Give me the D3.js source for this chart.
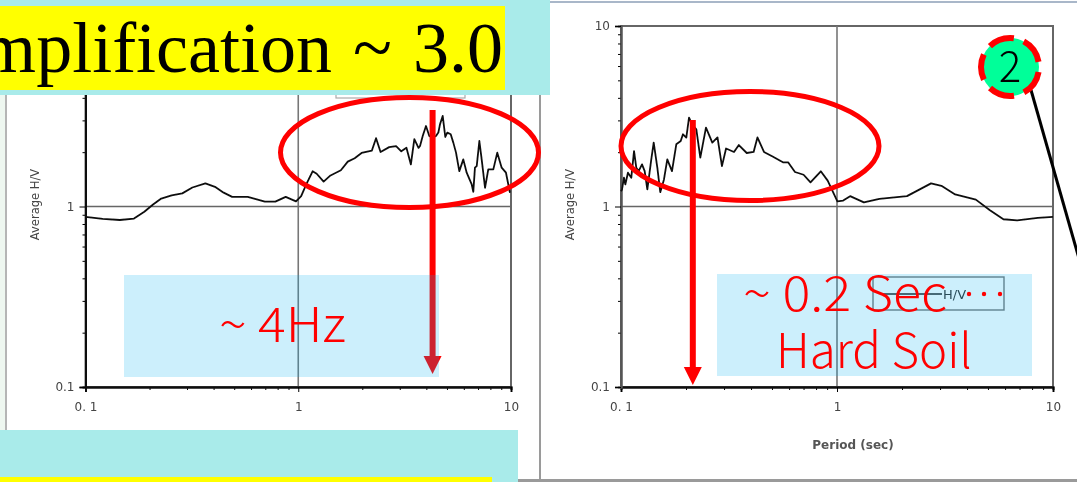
<!DOCTYPE html>
<html><head><meta charset="utf-8">
<script src="https://cdn.jsdelivr.net/npm/d3@7/dist/d3.min.js"></script>
<style>html,body{margin:0;padding:0;background:#fff;overflow:hidden}svg{display:block}</style>
</head><body><svg id="c" width="1077" height="482"></svg>
<script>
const freqHz=[0.1,0.1205,0.145,0.169,0.189,0.207,0.227,0.254,0.285,0.318,0.366,0.406,0.446,0.489,0.579,0.697,0.78,0.873,0.976,1.032,1.092,1.168,1.221,1.316,1.418,1.586,1.709,1.842,1.984,2.219,2.321,2.437,2.675,2.884,3.05,3.225,3.384,3.513,3.675,3.736,3.846,3.985,4.13,4.27,4.44,4.555,4.638,4.775,4.911,5.018,5.207,5.356,5.515,5.715,5.967,6.19,6.536,6.65,6.77,6.9,7.1,7.28,7.55,7.82,8.26,8.62,9.04,9.47,9.89];
const freqHV=[0.876,0.853,0.842,0.857,0.936,1.022,1.107,1.151,1.182,1.274,1.343,1.285,1.193,1.131,1.131,1.064,1.064,1.131,1.068,1.141,1.331,1.567,1.519,1.373,1.486,1.588,1.773,1.852,1.979,2.041,2.391,2.005,2.132,2.161,2.022,2.114,1.711,2.36,2.114,2.163,2.458,2.793,2.458,2.408,2.458,2.567,2.855,3.174,2.427,2.567,2.512,2.259,1.988,1.571,1.824,1.539,1.325,1.207,1.641,1.675,2.306,1.824,1.27,1.606,1.606,1.988,1.641,1.539,1.191];
const periodSec=[0.1,0.1011,0.1032,0.1047,0.1077,0.1116,0.1149,0.1177,0.1207,0.1251,0.1287,0.1324,0.1381,0.1417,0.1473,0.152,0.1581,0.1638,0.1722,0.1803,0.189,0.1936,0.2006,0.2065,0.2132,0.2232,0.2329,0.2474,0.2647,0.2797,0.2933,0.3065,0.3335,0.3512,0.3821,0.4111,0.4282,0.4591,0.5033,0.5618,0.5936,0.639,0.7004,0.7538,0.8414,0.9055,1.004,1.068,1.15,1.332,1.571,2.108,2.726,3.043,3.524,4.393,5.087,5.893,6.825,8.507,10];
const periodHV=[1.216,1.243,1.444,1.325,1.539,1.444,2.029,1.641,1.571,1.711,1.571,1.243,1.824,2.259,1.641,1.2,1.413,1.824,1.571,2.211,2.306,2.512,2.408,3.11,2.855,2.678,1.865,2.737,2.259,2.413,1.674,2.095,2.005,2.19,1.979,2.005,2.413,2.005,1.893,1.757,1.757,1.553,1.499,1.361,1.567,1.391,1.068,1.078,1.141,1.054,1.102,1.141,1.343,1.302,1.167,1.092,0.957,0.85,0.838,0.865,0.876];
const xMajor=[0.1,1,10], xMajorLabels=["0. 1","1","10"];
const yMajorLeft=[0.1,1], yLabelsLeft=["0.1","1"];
const yMajorRight=[0.1,1,10], yLabelsRight=["0.1","1","10"];
const minor=[0.2,0.3,0.4,0.5,0.6,0.7,0.8,0.9,2,3,4,5,6,7,8,9];
const headline="Amplification ~ 3.0";
const notes=["~ 4Hz","~ 0.2 Sec","Hard Soil"];
const titles={y:"Average H/V",x:"Period (sec)",legend:"H/V"};
const marker="2";

const svg=d3.select("#c");
const defs=svg.append("defs");
defs.append("filter").attr("id","soft").attr("x","-5%").attr("y","-5%").attr("width","110%").attr("height","110%")
  .append("feGaussianBlur").attr("stdDeviation",0.6);

// page furniture
svg.append("rect").attr("x",0).attr("y",0).attr("width",5).attr("height",482).attr("fill","#eef7f0");
svg.append("rect").attr("x",5).attr("y",95).attr("width",2).attr("height",335).attr("fill","#b5b5b5");
svg.append("rect").attr("x",539).attr("y",0).attr("width",2).attr("height",482).attr("fill","#9a9a9a");
svg.append("rect").attr("x",540).attr("y",1).attr("width",537).attr("height",2).attr("fill","#a9b7c9");
svg.append("rect").attr("x",500).attr("y",479).attr("width",577).attr("height",3).attr("fill","#9a9a9a");

function chart(o){
  const x=d3.scaleLog().domain([0.1,10]).range(o.xr);
  const y=d3.scaleLog().domain([0.1,10]).range([387,26]);
  const g=svg.append("g").attr("filter","url(#soft)");
  const [x0,x1]=o.xr;
  g.append("rect").attr("x",x0).attr("y",26).attr("width",x1-x0).attr("height",361)
    .attr("fill","none").attr("stroke","#666").attr("stroke-width",2);
  g.append("line").attr("x1",x(1)).attr("x2",x(1)).attr("y1",26).attr("y2",387).attr("stroke","#777").attr("stroke-width",1.6);
  g.append("line").attr("x1",x0).attr("x2",x1).attr("y1",y(1)).attr("y2",y(1)).attr("stroke","#666").attr("stroke-width",1.6);
  const style=s=>s.call(a=>a.select(".domain").attr("stroke",o.axis).attr("stroke-width",2))
     .call(a=>a.selectAll("text").attr("fill","#444").attr("font-family","DejaVu Sans").attr("font-size",12));
  const bottom=s=>s.call(a=>a.select(".domain").attr("stroke","#111"));
  g.append("g").attr("transform","translate(0,387)")
    .call(d3.axisBottom(x).tickValues(minor).tickSize(3).tickFormat("")).call(style).call(bottom);
  g.append("g").attr("transform","translate(0,387)")
    .call(d3.axisBottom(x).tickValues(xMajor).tickSize(5).tickPadding(10).tickFormat((d,i)=>xMajorLabels[i])).call(style).call(bottom);
  g.append("g").attr("transform",`translate(${x0},0)`)
    .call(d3.axisLeft(y).tickValues(minor).tickSize(3).tickFormat("")).call(style);
  g.append("g").attr("transform",`translate(${x0},0)`)
    .call(d3.axisLeft(y).tickValues(o.yt).tickSize(6).tickPadding(5).tickFormat((d,i)=>o.yl[i])).call(style);
  g.append("text").attr("transform",`translate(${x0-47},${y(1)-2}) rotate(-90)`).attr("text-anchor","middle")
    .attr("font-family","DejaVu Sans").attr("font-size",11.5).attr("fill","#444").text(titles.y);
  g.append("path").attr("fill","none").attr("stroke","#111").attr("stroke-width",1.8).attr("stroke-linejoin","round")
    .attr("d",d3.line().x((d,i)=>x(o.xs[i])).y(d=>y(d))(o.ys));
  return {x,y,g};
}
const L=chart({xr:[85.5,511],xs:freqHz,ys:freqHV,axis:"#111",yt:yMajorLeft,yl:yLabelsLeft});
const R=chart({xr:[621,1053],xs:periodSec,ys:periodHV,axis:"#555",yt:yMajorRight,yl:yLabelsRight});

R.g.append("text").attr("x",853).attr("y",449).attr("text-anchor","middle").attr("font-family","DejaVu Sans")
  .attr("font-size",12).attr("font-weight","bold").attr("fill","#555").text(titles.x);
// legend (right) and sliver of legend (left)
R.g.append("rect").attr("x",873).attr("y",277).attr("width",131).attr("height",33).attr("fill","#fff").attr("stroke","#777").attr("stroke-width",1.4);
R.g.append("line").attr("x1",882).attr("x2",942).attr("y1",294).attr("y2",294).attr("stroke","#222").attr("stroke-width",1.5);
R.g.append("text").attr("x",943).attr("y",299).attr("font-family","DejaVu Sans").attr("font-size",13).attr("fill","#333").text(titles.legend);
L.g.append("rect").attr("x",336).attr("y",88).attr("width",129).attr("height",10).attr("fill","#fff").attr("stroke","#aaa").attr("stroke-width",1.2);

// red ellipses
function ell(cx,cy,rx,ry){svg.append("ellipse").attr("cx",cx).attr("cy",cy).attr("rx",rx).attr("ry",ry)
  .attr("fill","none").attr("stroke","#f00").attr("stroke-width",5);}
ell(409.5,152.5,129,55);ell(750,146,129,54.5);

// red arrows at the read-off frequency / period
function arrow(px,top,tip){
  svg.append("rect").attr("x",px-3).attr("y",top).attr("width",6).attr("height",tip-top-10).attr("fill","#f00");
  svg.append("path").attr("fill","#f00").attr("d",`M${px-9},${tip-18}H${px+9}L${px},${tip}Z`);
}
arrow(L.x(4.28),110,374);
arrow(R.x(0.215),120,385);

// translucent note boxes
[[124,275,315,102],[717,274,315,102]].forEach(b=>svg.append("rect").attr("x",b[0]).attr("y",b[1]).attr("width",b[2]).attr("height",b[3]).attr("fill","#00b0f0").attr("fill-opacity",0.2));

const nf="'Noto Sans CJK JP','Noto Sans',sans-serif";
function note(t,x,y,w){svg.append("text").attr("x",x).attr("y",y).attr("font-family",nf).attr("font-weight",300).attr("font-size",48)
  .attr("fill","#f00").attr("textLength",w).attr("lengthAdjust","spacingAndGlyphs").text(t);}
note(notes[0],219,342,127);note(notes[1],743,311,204);note(notes[2],776,368,196);
[969,984,1000].forEach(cx=>svg.append("circle").attr("cx",cx).attr("cy",294).attr("r",2.2).attr("fill","#f00"));

// teal banners with yellow headline
svg.append("rect").attr("x",0).attr("y",0).attr("width",550).attr("height",95).attr("fill","#a9ebea");
svg.append("rect").attr("x",0).attr("y",6).attr("width",505).attr("height",84).attr("fill","#ff0");
svg.append("text").attr("x",503).attr("y",72).attr("text-anchor","end").attr("font-family","Liberation Serif").attr("font-size",72).attr("word-spacing",3).attr("fill","#000").text(headline);
svg.append("rect").attr("x",0).attr("y",430).attr("width",518).attr("height",52).attr("fill","#a9ebea");
svg.append("rect").attr("x",0).attr("y",477).attr("width",492).attr("height",5).attr("fill","#ff0");

// callout
svg.append("line").attr("x1",1031).attr("y1",90).attr("x2",1080).attr("y2",262).attr("stroke","#000").attr("stroke-width",3);
svg.append("circle").attr("cx",1010).attr("cy",67).attr("r",29).attr("fill","#00ff99").attr("stroke","#f00").attr("stroke-width",6).attr("stroke-dasharray","26 10.44").attr("stroke-dashoffset",-5);
svg.append("text").attr("x",1010).attr("y",82).attr("text-anchor","middle").attr("font-family",nf).attr("font-weight",300).attr("font-size",42).attr("fill","#000").text(marker);
</script></body></html>
